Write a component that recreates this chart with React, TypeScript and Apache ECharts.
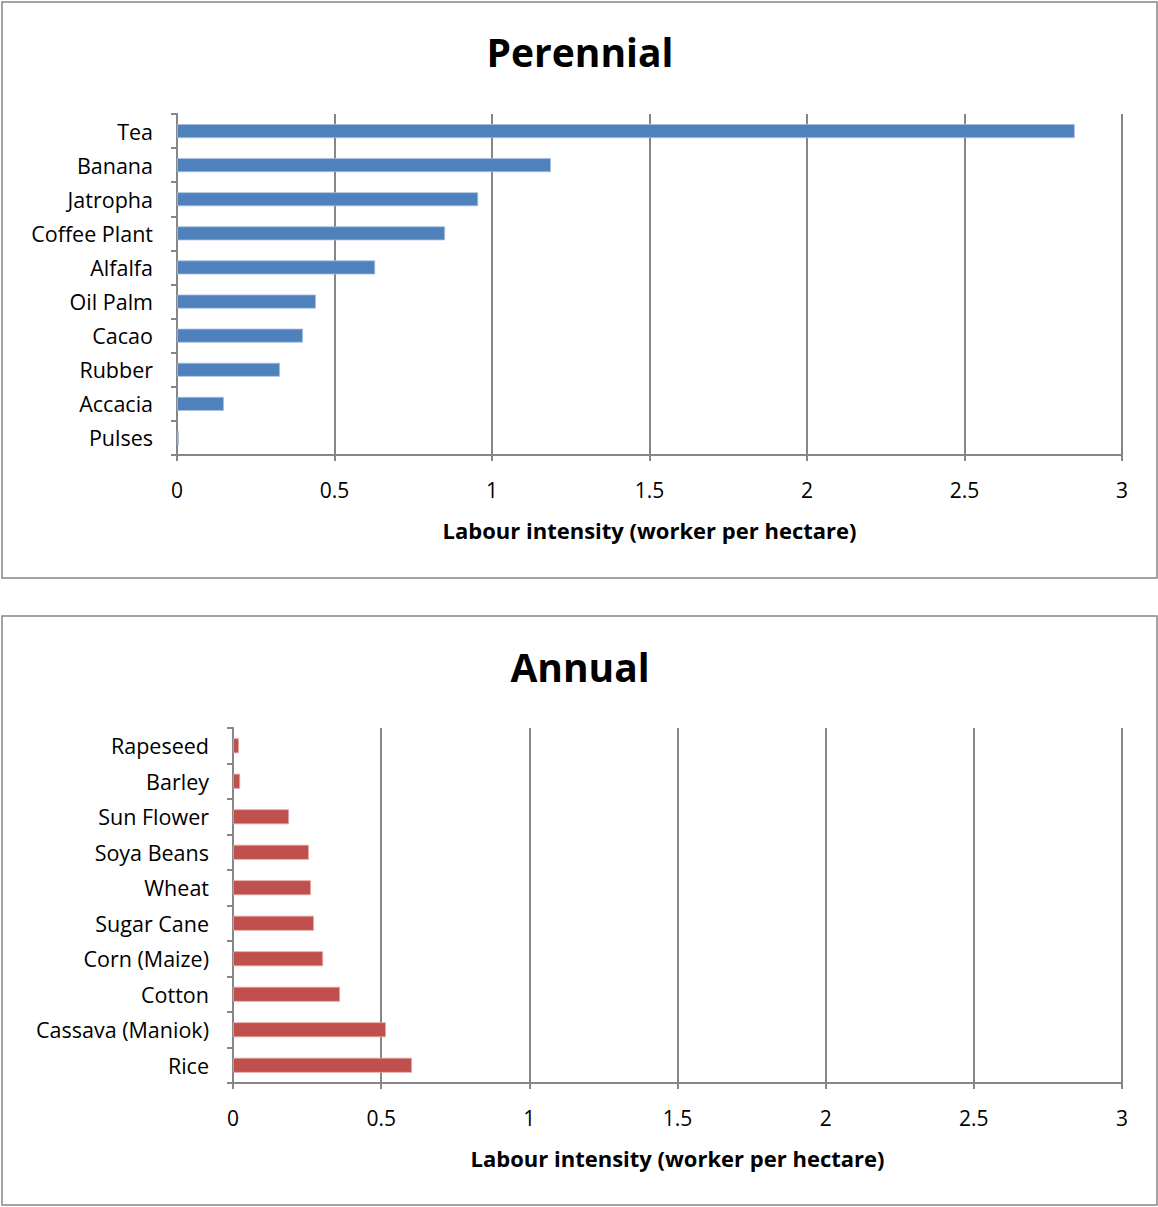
import React, { useEffect, useRef } from "react";
import * as echarts from "echarts";

// Perennial crops, top to bottom
const perennialCrops = ["Tea", "Banana", "Jatropha", "Coffee Plant", "Alfalfa", "Oil Palm", "Cacao", "Rubber", "Accacia", "Pulses"];
const perennialValues = [2.85, 1.187, 0.956, 0.851, 0.629, 0.441, 0.4, 0.327, 0.149, 0.006];

// Annual crops, top to bottom
const annualCrops = ["Rapeseed", "Barley", "Sun Flower", "Soya Beans", "Wheat", "Sugar Cane", "Corn (Maize)", "Cotton", "Cassava (Maniok)", "Rice"];
const annualValues = [0.02, 0.024, 0.189, 0.256, 0.263, 0.273, 0.304, 0.361, 0.516, 0.604];

const chartTitles = ["Perennial", "Annual"];
const axisTitle = "Labour intensity (worker per hectare)";

const FONT = "'Open Sans', sans-serif";
const GREY = "#868686";

function valueAxis(gridIndex: number) {
  return {
    type: "value" as const,
    gridIndex,
    min: 0,
    max: 3,
    interval: 0.5,
    name: axisTitle,
    nameLocation: "middle" as const,
    nameGap: 64,
    nameTextStyle: { fontFamily: FONT, fontSize: 22, fontWeight: "bold" as const, color: "#000" },
    axisLine: { show: true, lineStyle: { color: GREY, width: 2 } },
    axisTick: { show: true, length: 6, lineStyle: { color: GREY, width: 2 } },
    axisLabel: { fontFamily: FONT, fontSize: 21, color: "#000", margin: 24 },
    splitLine: { show: true, lineStyle: { color: GREY, width: 2 } },
  };
}

function categoryAxis(gridIndex: number, data: string[]) {
  return {
    type: "category" as const,
    gridIndex,
    data,
    inverse: true,
    axisLine: { show: true, lineStyle: { color: GREY, width: 2 } },
    axisTick: { show: true, length: 6, lineStyle: { color: GREY, width: 2 } },
    axisLabel: { fontFamily: FONT, fontSize: 21.5, color: "#000", margin: 24 },
    splitLine: { show: false },
  };
}

export default function App() {
  const ref = useRef<HTMLDivElement>(null);

  useEffect(() => {
    if (!ref.current) return;
    const chart = echarts.init(ref.current, undefined, { renderer: "svg" });
    chart.setOption({
      animation: false,
      backgroundColor: "#fff",
      title: [
        {
          text: chartTitles[0],
          left: 575,
          top: 27,
          textAlign: "center",
          textStyle: { fontFamily: FONT, fontSize: 39, fontWeight: "bold", color: "#000" },
        },
        {
          text: chartTitles[1],
          left: 575,
          top: 642,
          textAlign: "center",
          textStyle: { fontFamily: FONT, fontSize: 39, fontWeight: "bold", color: "#000" },
        },
      ],
      graphic: [
        {
          type: "rect",
          shape: { x: 2, y: 2, width: 1155, height: 576 },
          style: { fill: "none", stroke: GREY, lineWidth: 1.5 },
          silent: true,
        },
        {
          type: "rect",
          shape: { x: 2, y: 616, width: 1155, height: 589 },
          style: { fill: "none", stroke: GREY, lineWidth: 1.5 },
          silent: true,
        },
      ],
      grid: [
        { left: 177, right: 36, top: 114, height: 341 },
        { left: 233, right: 36, top: 728, height: 355 },
      ],
      xAxis: [valueAxis(0), valueAxis(1)],
      yAxis: [categoryAxis(0, perennialCrops), categoryAxis(1, annualCrops)],
      series: [
        {
          type: "bar",
          xAxisIndex: 0,
          yAxisIndex: 0,
          data: perennialValues,
          barWidth: 14,
          itemStyle: { color: "#4F81BD", borderColor: "#A7C0DE", borderWidth: 0.8 },
        },
        {
          type: "bar",
          xAxisIndex: 1,
          yAxisIndex: 1,
          data: annualValues,
          barWidth: 15,
          itemStyle: { color: "#C0504D", borderColor: "#E2A7A5", borderWidth: 0.8 },
        },
      ],
    });
    return () => chart.dispose();
  }, []);

  return (
    <div
      ref={ref}
      style={{ position: "absolute", left: 0, top: 0, width: 1158, height: 1207 }}
    />
  );
}
